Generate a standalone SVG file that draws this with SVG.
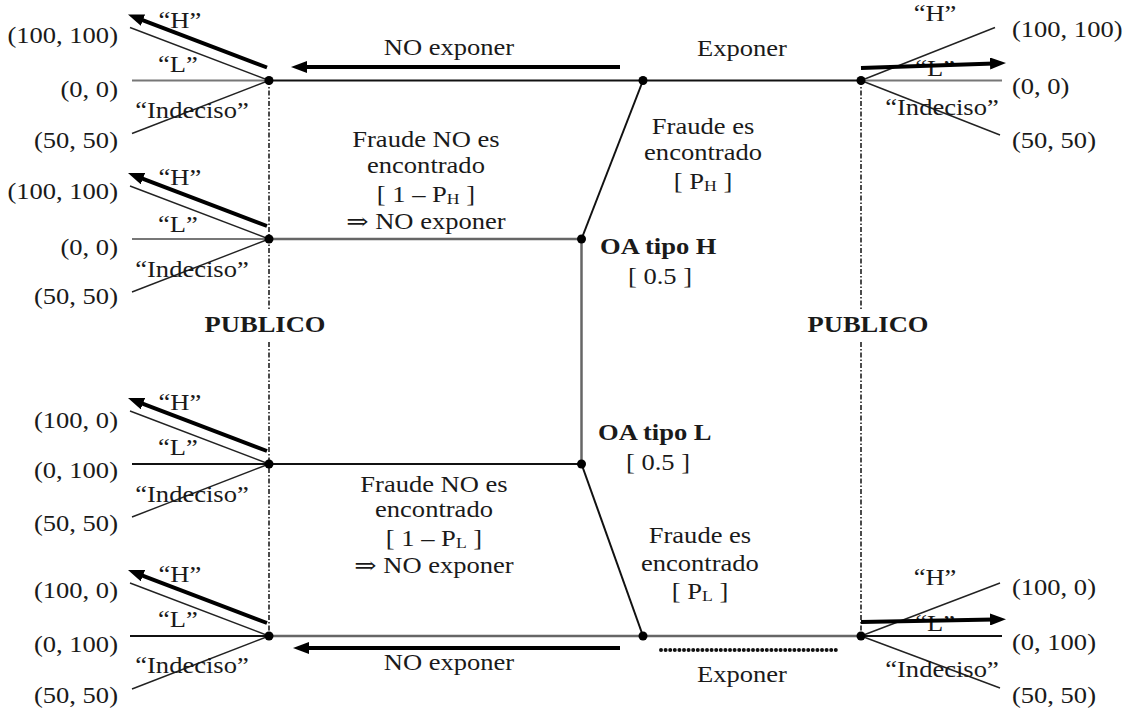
<svg xmlns="http://www.w3.org/2000/svg" width="1130" height="708" viewBox="0 0 1130 708">
<style>
text{font-family:'Liberation Serif','DejaVu Serif','Times New Roman',serif;font-size:22.5px;fill:#1a1a1a}
.b{font-weight:bold}
.m{text-anchor:middle}
.e{text-anchor:end}
.sub{font-size:15px}
.ln{stroke:#111;stroke-width:2;fill:none}
.gr{stroke:#666;stroke-width:2.5;fill:none}
.th{stroke:#222;stroke-width:1.4;fill:none}
.hz{stroke:#777;stroke-width:2;fill:none}
.ar{stroke:#000;stroke-width:4;fill:none;marker-end:url(#ah)}
.dd{stroke:#111;stroke-width:1.5;stroke-dasharray:5 2 1.5 2;fill:none}
.dot{stroke:#111;stroke-width:4;stroke-dasharray:0 4.6;stroke-linecap:round;fill:none}
.nd{fill:#000}
</style>
<defs>
<marker id="ah" markerUnits="userSpaceOnUse" markerWidth="18" markerHeight="12" refX="4" refY="6" orient="auto" viewBox="0 0 18 12">
<path d="M0,0 L16,6 L0,12 z" fill="#000"/>
</marker>
</defs>
<rect width="1130" height="708" fill="#fff"/>

<g id="connectors">
<line class="ln" x1="269" y1="80.5" x2="861" y2="80.5"/>
<line class="ln" x1="643" y1="80.5" x2="581.5" y2="239"/>
<line class="gr" x1="269" y1="239" x2="581.5" y2="239"/>
<line class="gr" x1="581.5" y1="239" x2="581.5" y2="464"/>
<line class="ln" x1="269" y1="464" x2="581.5" y2="464"/>
<line class="ln" x1="581.5" y1="464" x2="643" y2="636"/>
<line class="gr" x1="269" y1="636" x2="861" y2="636"/>
<line class="dd" x1="269" y1="80" x2="269" y2="310"/>
<line class="dd" x1="269" y1="342" x2="269" y2="636"/>
<line class="dd" x1="861" y1="80" x2="861" y2="310"/>
<line class="dd" x1="861" y1="342" x2="861" y2="636"/>
<line class="ar" x1="620" y1="67" x2="303" y2="67"/>
<line class="ar" x1="620" y1="648" x2="305" y2="648"/>
<line class="dot" x1="661" y1="650" x2="838" y2="650"/>
<line class="th" x1="130" y1="27.5" x2="269" y2="80.5"/>
<line class="hz" x1="132" y1="80.5" x2="269" y2="80.5"/>
<line class="th" x1="132" y1="133.5" x2="269" y2="80.5"/>
<line class="ar" x1="267" y1="67.5" x2="139.2" y2="18.8"/>
<line class="th" x1="130" y1="186" x2="269" y2="239"/>
<line class="hz" x1="132" y1="239" x2="269" y2="239"/>
<line class="th" x1="132" y1="292" x2="269" y2="239"/>
<line class="ar" x1="267" y1="226" x2="139.2" y2="177.3"/>
<line class="th" x1="130" y1="411" x2="269" y2="464"/>
<line class="ln" x1="132" y1="464" x2="269" y2="464"/>
<line class="th" x1="132" y1="517" x2="269" y2="464"/>
<line class="ar" x1="267" y1="451" x2="139.2" y2="402.3"/>
<line class="th" x1="130" y1="583" x2="269" y2="636"/>
<line class="ln" x1="130" y1="636" x2="269" y2="636"/>
<line class="th" x1="132" y1="689" x2="269" y2="636"/>
<line class="ar" x1="267" y1="623" x2="139.2" y2="574.3"/>
<line class="th" x1="861" y1="80.5" x2="995" y2="27.5"/>
<line class="hz" x1="861" y1="80.5" x2="1002" y2="80.5"/>
<line class="th" x1="861" y1="80.5" x2="1000" y2="135"/>
<line class="th" x1="861" y1="636" x2="1000" y2="583"/>
<line class="ln" x1="861" y1="636" x2="1002" y2="636"/>
<line class="th" x1="861" y1="636" x2="1000" y2="688"/>
</g>

<g id="right-fan-labels-under" transform="scale(1.18 1)">
<text class="m" x="792.4" y="76">“L”</text>
<text class="m" x="792.4" y="631">“L”</text>
</g>
<g id="right-arrows">
<line class="ar" x1="861" y1="68" x2="994" y2="63.4"/>
<line class="ar" x1="861" y1="622" x2="994" y2="619.4"/>
</g>

<g id="nodes">
<circle id="n-top" class="nd" cx="643" cy="80.5" r="4.5"/>
<circle id="n-H" class="nd" cx="581.5" cy="239" r="4.5"/>
<circle id="n-L" class="nd" cx="581.5" cy="464" r="4.5"/>
<circle id="n-bot" class="nd" cx="643" cy="636" r="4.5"/>
<circle id="p1" class="nd" cx="269" cy="80.5" r="4.5"/>
<circle id="p2" class="nd" cx="269" cy="239" r="4.5"/>
<circle id="p3" class="nd" cx="269" cy="464" r="4.5"/>
<circle id="p4" class="nd" cx="269" cy="636" r="4.5"/>
<circle id="r1" class="nd" cx="861" cy="80.5" r="4.5"/>
<circle id="r2" class="nd" cx="861" cy="636" r="4.5"/>
</g>

<g id="labels" transform="scale(1.18 1)">
<text class="m" x="380.5" y="55">NO exponer</text>
<text class="m" x="628.8" y="56">Exponer</text>
<text class="m" x="380.5" y="670">NO exponer</text>
<text class="m" x="628.8" y="682">Exponer</text>
<g id="lab-noH">
<text class="m" x="361" y="147">Fraude NO es</text>
<text class="m" x="361" y="173">encontrado</text>
<text class="m" x="361" y="202">[ 1 – P<tspan class="sub" dy="2">H</tspan><tspan dy="-2"> ]</tspan></text>
<text class="m" x="361" y="229">⇒ NO exponer</text>
</g>
<g id="lab-yesH">
<text class="m" x="595.8" y="134">Fraude es</text>
<text class="m" x="595.8" y="160">encontrado</text>
<text class="m" x="595.8" y="189">[ P<tspan class="sub" dy="2">H</tspan><tspan dy="-2"> ]</tspan></text>
</g>
<g id="lab-OAH">
<text class="b" x="508.5" y="254">OA tipo H</text>
<text class="m" x="559.3" y="284">[ 0.5 ]</text>
</g>
<g id="lab-OAL">
<text class="b" x="506.8" y="440">OA tipo L</text>
<text class="m" x="557.6" y="470">[ 0.5 ]</text>
</g>
<g id="lab-noL">
<text class="m" x="367.8" y="492">Fraude NO es</text>
<text class="m" x="367.8" y="517">encontrado</text>
<text class="m" x="367.8" y="546">[ 1 – P<tspan class="sub" dy="2">L</tspan><tspan dy="-2"> ]</tspan></text>
<text class="m" x="367.8" y="573">⇒ NO exponer</text>
</g>
<g id="lab-yesL">
<text class="m" x="593.2" y="543">Fraude es</text>
<text class="m" x="593.2" y="571">encontrado</text>
<text class="m" x="593.2" y="599">[ P<tspan class="sub" dy="2">L</tspan><tspan dy="-2"> ]</tspan></text>
</g>
<text class="b m" x="224.6" y="332">PUBLICO</text>
<text class="b m" x="735.6" y="332">PUBLICO</text>
<g id="lf1">
<text class="e" x="100" y="43">(100, 100)</text>
<text class="e" x="100" y="97">(0, 0)</text>
<text class="e" x="100" y="148">(50, 50)</text>
<text class="m" x="152.5" y="28">“H”</text>
<text class="m" x="150.8" y="72">“L”</text>
<text class="m" x="162.7" y="118">“Indeciso”</text>
</g>
<g id="lf2">
<text class="e" x="100" y="199">(100, 100)</text>
<text class="e" x="100" y="255">(0, 0)</text>
<text class="e" x="100" y="304">(50, 50)</text>
<text class="m" x="152.5" y="185">“H”</text>
<text class="m" x="150.8" y="232">“L”</text>
<text class="m" x="162.7" y="277">“Indeciso”</text>
</g>
<g id="lf3">
<text class="e" x="100" y="428">(100, 0)</text>
<text class="e" x="100" y="478">(0, 100)</text>
<text class="e" x="100" y="531">(50, 50)</text>
<text class="m" x="152.5" y="410">“H”</text>
<text class="m" x="150.8" y="455">“L”</text>
<text class="m" x="162.7" y="502">“Indeciso”</text>
</g>
<g id="lf4">
<text class="e" x="100" y="598">(100, 0)</text>
<text class="e" x="100" y="652">(0, 100)</text>
<text class="e" x="100" y="703">(50, 50)</text>
<text class="m" x="152.5" y="582">“H”</text>
<text class="m" x="150.8" y="627">“L”</text>
<text class="m" x="162.7" y="673">“Indeciso”</text>
</g>
<g id="rf1">
<text x="857.6" y="37">(100, 100)</text>
<text x="857.6" y="94">(0, 0)</text>
<text x="857.6" y="148">(50, 50)</text>
<text class="m" x="792.4" y="21">“H”</text>
<text class="m" x="798.3" y="115">“Indeciso”</text>
</g>
<g id="rf2">
<text x="857.6" y="595">(100, 0)</text>
<text x="857.6" y="650">(0, 100)</text>
<text x="857.6" y="703">(50, 50)</text>
<text class="m" x="792.4" y="585">“H”</text>
<text class="m" x="798.3" y="677">“Indeciso”</text>
</g>
</g>
</svg>
